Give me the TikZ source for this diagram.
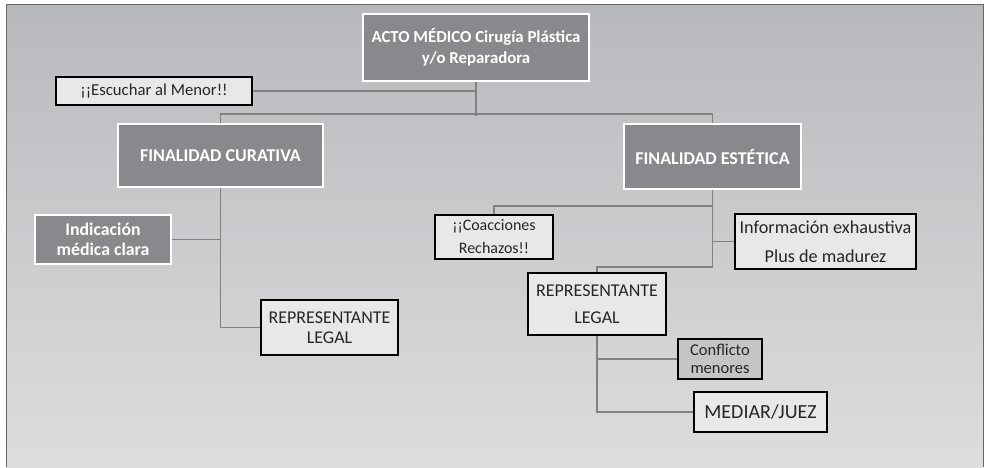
\documentclass[tikz,border=0pt]{standalone}
\usepackage{fontspec}
\setmainfont{Carlito}
\usepackage{tikz}
\usetikzlibrary{positioning,calc}
\definecolor{panelTop}{RGB}{184,185,188}
\definecolor{panelBottom}{RGB}{220,221,223}
\definecolor{boxDark}{RGB}{136,137,140}
\definecolor{boxLight}{RGB}{231,232,234}
\definecolor{boxMid}{RGB}{196,197,199}
\definecolor{linkGray}{RGB}{128,129,131}

\begin{document}
\begin{tikzpicture}[x=1pt,y=-1pt,
  darkbox/.style={draw=white,line width=1.6pt,fill=boxDark,text=white,align=center,inner sep=0pt,
    font=\fontsize{16.8}{21}\selectfont\bfseries},
  lightbox/.style={draw=black,line width=1.6pt,fill=boxLight,text=black!85,align=center,inner sep=0pt,
    font=\fontsize{16}{23}\selectfont},
  midbox/.style={lightbox,fill=boxMid,font=\fontsize{16.5}{18}\selectfont},
  link/.style={draw=linkGray,line width=1.6pt}
]
  % background panel
  \useasboundingbox (0,0) rectangle (988,467);
  \shade[top color=panelTop,bottom color=panelBottom] (6,4) rectangle (983,467);
  \draw[gray!80!black,line width=0.8pt] (6,467) -- (6,4) -- (983,4) -- (983,467);

  % nodes
  \node[darkbox,minimum width=226,minimum height=67] (acto) at (476,47.5) {ACTO MÉDICO Cirugía Plástica\\y/o Reparadora};
  \node[lightbox,minimum width=196,minimum height=28,font=\fontsize{16.7}{20}\selectfont] (escuchar) at (154,91) {¡¡Escuchar al Menor!!};
  \node[darkbox,minimum width=205,minimum height=63,font=\fontsize{18}{21}\selectfont\bfseries] (curativa) at (220.5,155.5) {FINALIDAD CURATIVA};
  \node[darkbox,minimum width=177,minimum height=65,font=\fontsize{18}{21}\selectfont\bfseries] (estetica) at (712.5,156.5) {FINALIDAD ESTÉTICA};
  \node[darkbox,minimum width=136,minimum height=49,font=\fontsize{17.8}{20}\selectfont\bfseries] (indicacion) at (103,239.5) {Indicación\\médica clara};
  \node[lightbox,minimum width=137,minimum height=55,font=\fontsize{18}{20}\selectfont] (legalcur) at (329.5,327.5) {REPRESENTANTE\\LEGAL};
  \node[lightbox,minimum width=118,minimum height=44] (coaccion) at (494,237) {¡¡Coacciones\\Rechazos!!};
  \node[lightbox,minimum width=181,minimum height=55,font=\fontsize{18.2}{29}\selectfont] (informa) at (825.5,241.5) {Información exhaustiva\\Plus de madurez};
  \node[lightbox,minimum width=138,minimum height=62,font=\fontsize{18}{27}\selectfont] (legalest) at (597,304) {REPRESENTANTE\\LEGAL};
  \node[midbox,minimum width=84,minimum height=40] (conflicto) at (720,359) {Conflicto\\menores};
  \node[lightbox,minimum width=133,minimum height=40,font=\fontsize{20}{22}\selectfont] (mediar) at (760.5,412) {MEDIAR/JUEZ};

  % connectors
  \draw[link] (escuchar.east) -| (acto.south);
  \draw[link] (acto.south) -- ++(0,34);
  \draw[link] (curativa.north) -- ++(0,-9) -| (estetica.north);
  \draw[link] (curativa.south) |- (legalcur.west);
  \draw[link] (indicacion.east) -| (curativa.south);
  \draw[link] (coaccion.north) -- ++(0,-8) -| (estetica.south);
  \draw[link] (estetica.south) |- (informa.west);
  \draw[link] (estetica.south) -- ++(0,77) -| (legalest.north);
  \draw[link] (legalest.south) |- (conflicto.west);
  \draw[link] (legalest.south) |- (mediar.west);
\end{tikzpicture}
\end{document}
